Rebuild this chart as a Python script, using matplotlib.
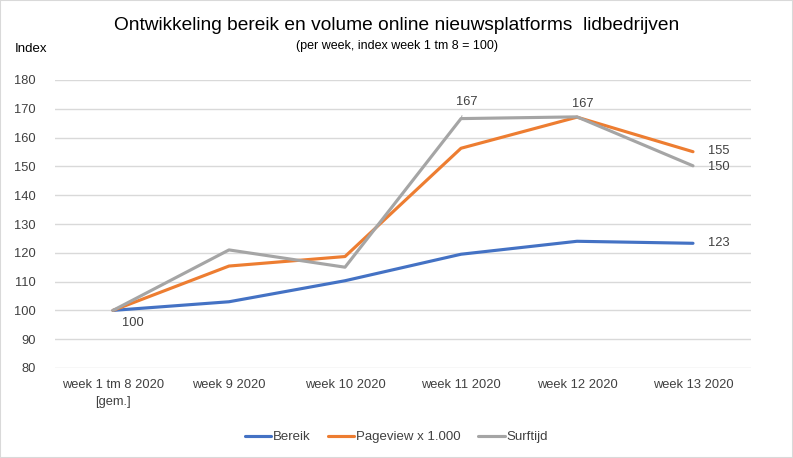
import matplotlib.pyplot as plt
from matplotlib.patches import Rectangle

weeks = ["week 1 tm 8 2020\n[gem.]", "week 9 2020", "week 10 2020",
         "week 11 2020", "week 12 2020", "week 13 2020"]
bereik = [100, 103.0, 110.3, 119.5, 124.0, 123.3]
pageview = [100, 115.4, 118.7, 156.3, 167.1, 155.1]
surftijd = [100, 121.0, 115.0, 166.6, 167.2, 150.2]

plt.rcParams['font.family'] = ['Liberation Sans', 'DejaVu Sans']

fig = plt.figure(figsize=(7.93, 4.58), dpi=100)
ax = fig.add_axes([55 / 793, 1 - 368 / 458, 696 / 793, 288 / 458])

x = list(range(len(weeks)))
ax.plot(x, bereik, color="#4472c4", lw=2.25, label="Bereik", solid_capstyle="round")
ax.plot(x, pageview, color="#ed7d31", lw=2.25, label="Pageview x 1.000", solid_capstyle="round")
ax.plot(x, surftijd, color="#a5a5a5", lw=2.25, label="Surftijd", solid_capstyle="round")

ax.set_xlim(-0.5, 5.5)
ax.set_ylim(80, 180)
ax.set_yticks(range(80, 181, 10))
ax.set_xticks(x)
ax.set_xticklabels(weeks, fontsize=9.3, color="#404040", linespacing=1.5)
ax.tick_params(axis="y", labelsize=9.3, labelcolor="#404040", length=0, pad=14)
ax.tick_params(axis="x", length=0, pad=8)
for lab in ax.get_xticklabels():
    lab.set_verticalalignment("top")
ax.grid(axis="y", color="#d9d9d9", lw=1)
ax.set_axisbelow(True)
for s in ax.spines.values():
    s.set_visible(False)

lbl = dict(fontsize=9.3, color="#404040")
ax.annotate(f"{bereik[0]:.0f}", (0, bereik[0]), xytext=(0.17, 95.5), ha="center", va="center", **lbl)
ax.annotate(f"{surftijd[3]:.0f}", (3, surftijd[3]), xytext=(3.05, 172.5), ha="center", va="center",
            arrowprops=dict(arrowstyle="-", color="#a5a5a5", lw=0.7, shrinkA=4, shrinkB=0), **lbl)
ax.annotate(f"{pageview[4]:.0f}", (4, pageview[4]), xytext=(4.05, 171.6), ha="center", va="center", **lbl)
ax.annotate(f"{pageview[5]:.0f}", (5, pageview[5]), xytext=(5.22, 155.2), ha="center", va="center", **lbl)
ax.annotate(f"{surftijd[5]:.0f}", (5, surftijd[5]), xytext=(5.22, 149.8), ha="center", va="center", **lbl)
ax.annotate(f"{bereik[5]:.0f}", (5, bereik[5]), xytext=(5.22, 123.3), ha="center", va="center", **lbl)

fig.text(0.5, 1 - 25 / 458, "Ontwikkeling bereik en volume online nieuwsplatforms  lidbedrijven",
         ha="center", va="center", fontsize=13.8, color="black")
fig.text(0.5, 1 - 46 / 458, "(per week, index week 1 tm 8 = 100)", ha="center", va="center",
         fontsize=9, color="black")
fig.text(15 / 793, 1 - 49 / 458, "Index", ha="left", va="center", fontsize=9.5, color="black")

fig.legend(loc="center", bbox_to_anchor=(0.5, 1 - 437 / 458), ncol=3, frameon=False,
           fontsize=9.5, handlelength=2.0, columnspacing=1.3, handletextpad=0.15,
           labelcolor="#404040")

fig.patches.append(Rectangle((0, 0), 1, 1, transform=fig.transFigure, fill=False,
                             edgecolor="#d9d9d9", lw=1.5))
fig.savefig("out.png", dpi=100)
